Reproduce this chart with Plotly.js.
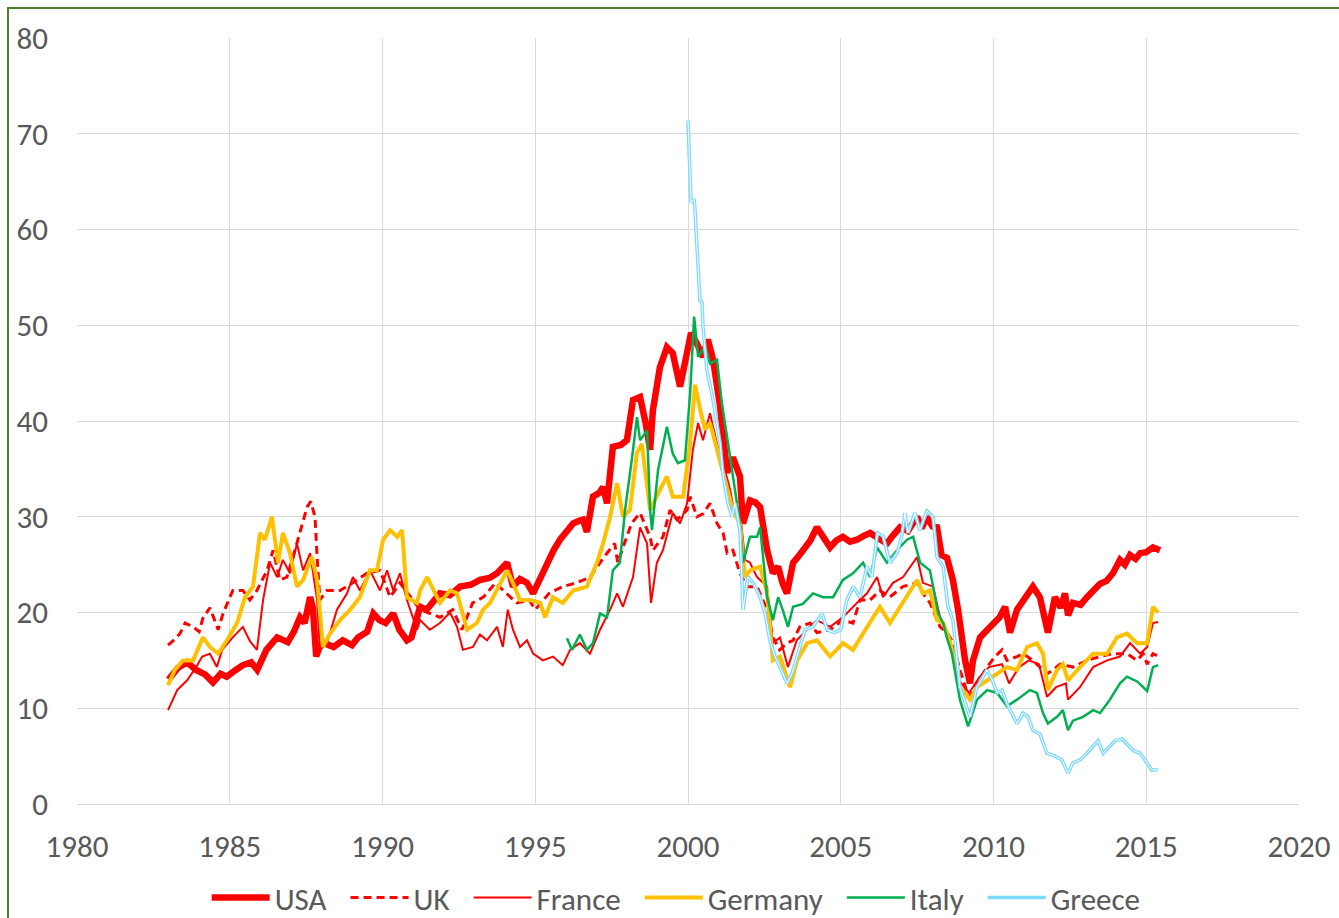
<!DOCTYPE html>
<html>
<head>
<meta charset="utf-8">
<script src="https://cdn.plot.ly/plotly-3.0.1.min.js"></script>
<style>
  html, body { margin: 0; padding: 0; overflow: hidden; background: #ffffff; }
  #chart { width: 1339px; height: 918px; position: absolute; left: 0; top: 0; }
  #frame { position: absolute; left: 7px; top: 7px; width: 1400px; height: 1000px;
           border-left: 2px solid #4F7F30; border-top: 2px solid #4F7F30; pointer-events: none; }
</style>
</head>
<body>
<div id="chart"></div>
<div id="frame"></div>
<script>
// ---- Data ----
const seriesNames = ["USA", "UK", "France", "Germany", "Italy", "Greece"];

const usaYears = [1983.0,1983.3,1983.6,1983.9,1984.2,1984.45,1984.7,1984.9,1985.2,1985.43,1985.7,1985.9,1986.2,1986.55,1986.9,1987.1,1987.3,1987.45,1987.63,1987.72,1987.83,1987.95,1988.1,1988.4,1988.7,1989.0,1989.2,1989.5,1989.7,1989.9,1990.1,1990.35,1990.55,1990.8,1990.95,1991.1,1991.23,1991.45,1991.7,1991.88,1992.2,1992.54,1992.9,1993.19,1993.5,1993.75,1994.08,1994.27,1994.5,1994.73,1994.93,1995.15,1995.38,1995.6,1995.81,1996.0,1996.24,1996.45,1996.56,1996.69,1996.89,1997.1,1997.22,1997.35,1997.54,1997.8,1998.0,1998.2,1998.43,1998.6,1998.76,1998.85,1999.08,1999.31,1999.5,1999.74,1999.97,2000.1,2000.29,2000.49,2000.65,2000.82,2001.05,2001.2,2001.28,2001.47,2001.7,2001.8,2002.03,2002.2,2002.36,2002.59,2002.78,2002.95,2003.1,2003.24,2003.44,2003.6,2003.76,2004.0,2004.22,2004.45,2004.65,2004.85,2005.07,2005.3,2005.53,2005.75,2005.96,2006.2,2006.51,2006.7,2006.94,2007.2,2007.5,2007.65,2007.82,2008.0,2008.15,2008.3,2008.48,2008.67,2008.84,2009.07,2009.23,2009.33,2009.56,2009.8,2009.98,2010.2,2010.38,2010.54,2010.77,2011.0,2011.29,2011.52,2011.78,2012.01,2012.2,2012.34,2012.44,2012.6,2012.85,2013.06,2013.3,2013.49,2013.7,2013.91,2014.14,2014.3,2014.47,2014.65,2014.8,2015.0,2015.22,2015.45];
const usaValues = [13.0,14.2,14.8,14.0,13.5,12.7,13.6,13.3,14.0,14.5,14.8,14.0,16.1,17.4,16.9,18.0,19.5,18.9,21.6,20.5,15.4,16.5,16.8,16.4,17.1,16.6,17.4,18.0,19.9,19.2,18.9,19.9,18.2,17.1,17.4,19.5,20.6,20.3,21.3,22.0,21.8,22.7,22.9,23.4,23.6,24.1,25.2,22.7,23.5,23.1,22.0,23.5,25.2,26.5,27.6,28.3,29.3,29.6,29.7,28.4,32.1,32.5,33.1,31.4,37.3,37.5,38.0,42.2,42.5,40.0,37.0,41.1,45.6,47.7,47.1,43.6,47.1,49.2,48.1,46.7,48.5,46.4,41.5,37.0,34.6,36.2,34.2,29.3,31.7,31.5,31.0,26.5,24.1,24.8,23.0,22.0,25.2,25.8,26.5,27.5,28.9,27.8,26.8,27.5,27.9,27.4,27.6,28.0,28.3,27.8,27.2,28.0,28.9,28.5,30.0,28.8,30.0,29.0,28.9,26.0,25.7,23.4,20.3,15.0,12.6,15.0,17.4,18.2,18.9,19.5,20.6,17.9,20.3,21.5,22.7,21.6,17.9,21.6,20.5,22.0,19.7,21.0,20.8,21.6,22.5,23.0,23.3,24.1,25.5,25.0,26.0,25.6,26.2,26.3,26.8,26.5];

const ukYears = [1982.98,1983.2,1983.37,1983.54,1983.8,1984.0,1984.12,1984.35,1984.62,1984.78,1985.1,1985.43,1985.66,1985.89,1986.22,1986.42,1986.64,1986.87,1987.07,1987.3,1987.53,1987.65,1987.79,1987.86,1987.95,1988.18,1988.61,1989.03,1989.49,1989.92,1990.25,1990.57,1991.0,1991.23,1991.88,1992.3,1992.6,1992.95,1993.3,1993.7,1994.05,1994.4,1994.8,1995.0,1995.45,1995.9,1996.35,1996.8,1997.25,1997.6,1997.7,1998.15,1998.43,1998.76,1998.85,1999.18,1999.41,1999.64,1999.97,2000.07,2000.29,2000.49,2000.72,2000.95,2001.15,2001.28,2001.47,2001.7,2001.93,2002.26,2002.59,2002.78,2003.0,2003.24,2003.44,2003.66,2004.0,2004.22,2004.65,2005.07,2005.4,2005.63,2005.96,2006.28,2006.6,2007.03,2007.5,2007.69,2007.92,2008.25,2008.48,2008.67,2008.9,2009.1,2009.23,2009.46,2009.79,2010.05,2010.28,2010.44,2010.77,2010.97,2011.29,2011.75,2011.95,2012.18,2012.6,2013.06,2013.49,2013.91,2014.37,2014.7,2014.9,2015.03,2015.22,2015.35];
const ukValues = [16.6,17.2,17.8,18.9,18.5,18.0,19.4,20.5,18.2,19.9,22.3,22.3,21.3,22.3,24.4,26.5,23.4,23.7,25.8,28.3,31.0,31.6,30.0,25.8,21.3,22.3,22.3,23.1,24.1,24.4,21.6,23.1,21.3,20.3,19.5,20.3,18.2,21.0,21.6,23.1,22.0,21.0,21.3,20.3,22.0,22.7,23.1,23.7,25.8,27.2,25.2,29.3,30.4,27.9,26.5,27.9,30.7,29.7,30.7,32.1,30.0,30.3,31.4,29.3,28.3,26.2,26.5,24.1,22.7,22.7,20.3,17.4,16.1,16.8,17.1,18.5,18.9,17.9,18.2,19.2,18.9,21.3,21.3,22.3,21.6,22.7,23.1,22.0,21.0,18.5,17.9,16.9,14.0,12.0,11.2,12.6,14.3,15.4,16.1,15.0,15.4,15.7,15.0,13.6,14.0,14.6,14.3,15.0,15.4,15.7,15.7,15.0,15.7,14.6,15.7,15.5];

const franceYears = [1982.98,1983.28,1983.6,1983.9,1984.1,1984.35,1984.58,1984.75,1985.1,1985.43,1985.66,1985.89,1986.09,1986.32,1986.55,1986.74,1986.97,1987.2,1987.4,1987.63,1987.86,1987.95,1988.18,1988.51,1988.84,1989.03,1989.26,1989.59,1989.92,1990.15,1990.35,1990.57,1990.8,1991.13,1991.23,1991.55,1991.88,1992.21,1992.44,1992.63,1992.96,1993.19,1993.42,1993.75,1993.94,1994.1,1994.27,1994.5,1994.73,1994.93,1995.25,1995.58,1995.9,1996.14,1996.46,1996.79,1997.12,1997.45,1997.68,1997.87,1998.2,1998.43,1998.66,1998.79,1998.98,1999.18,1999.5,1999.74,1999.97,2000.16,2000.33,2000.49,2000.72,2000.95,2001.15,2001.38,2001.54,2001.7,2001.87,2002.03,2002.26,2002.59,2002.78,2003.01,2003.27,2003.56,2003.89,2004.22,2004.65,2005.07,2005.53,2005.86,2006.19,2006.38,2006.71,2007.04,2007.5,2007.69,2008.02,2008.25,2008.55,2008.87,2009.2,2009.53,2009.85,2010.28,2010.51,2010.84,2011.16,2011.49,2011.75,2012.05,2012.37,2012.44,2012.83,2013.26,2013.72,2014.14,2014.47,2014.8,2015.03,2015.22,2015.39];
const franceValues = [9.8,11.9,12.9,14.3,15.4,15.7,14.3,16.1,17.4,18.5,17.0,16.1,21.3,25.2,23.7,25.5,24.1,27.2,24.4,26.2,21.3,16.1,16.8,20.3,22.0,23.7,22.3,24.4,22.3,24.4,22.3,24.1,21.3,18.2,19.2,18.2,18.9,20.0,18.5,16.1,16.4,17.7,17.1,18.5,16.4,20.3,18.2,16.4,17.1,15.7,15.0,15.4,14.5,16.1,16.8,15.7,18.2,20.3,22.0,20.6,23.7,28.9,27.2,21.0,25.2,26.5,30.4,29.3,31.4,37.0,39.8,38.0,40.8,37.6,35.6,32.8,30.0,30.6,25.5,25.2,23.7,22.7,16.8,17.4,14.3,17.1,18.2,19.2,18.5,19.5,21.0,22.0,23.7,21.6,23.1,23.7,25.8,23.1,22.7,19.5,17.4,12.9,11.6,13.2,14.3,14.6,12.6,14.3,15.0,14.6,11.2,12.2,12.6,10.9,12.2,14.3,15.0,15.4,16.8,15.7,16.4,18.9,19.0];

const germanyYears = [1982.98,1983.2,1983.47,1983.8,1984.12,1984.35,1984.62,1984.91,1985.24,1985.5,1985.76,1985.99,1986.15,1986.38,1986.58,1986.74,1986.97,1987.2,1987.4,1987.69,1987.86,1988.05,1988.28,1988.61,1988.94,1989.26,1989.59,1989.82,1990.02,1990.25,1990.48,1990.64,1990.8,1991.13,1991.23,1991.46,1991.88,1992.21,1992.44,1992.77,1993.09,1993.29,1993.52,1993.85,1994.08,1994.27,1994.5,1994.83,1995.16,1995.32,1995.58,1995.9,1996.24,1996.69,1997.02,1997.22,1997.45,1997.68,1997.87,1998.1,1998.33,1998.49,1998.76,1999.08,1999.31,1999.5,1999.84,2000.07,2000.23,2000.39,2000.56,2000.72,2000.95,2001.15,2001.47,2001.7,2001.87,2002.03,2002.36,2002.59,2002.78,2003.01,2003.24,2003.34,2003.57,2003.9,2004.22,2004.65,2005.07,2005.4,2005.73,2006.28,2006.61,2007.04,2007.5,2007.69,2007.92,2008.15,2008.35,2008.58,2008.9,2009.23,2009.46,2009.79,2010.12,2010.44,2010.77,2011.1,2011.42,2011.62,2011.78,2012.08,2012.27,2012.44,2012.83,2013.26,2013.72,2014.04,2014.37,2014.7,2015.03,2015.22,2015.39];
const germanyValues = [12.4,14.0,15.0,15.0,17.4,16.4,15.7,17.1,18.9,21.6,22.7,28.3,27.6,30.0,25.2,28.3,26.2,22.7,23.4,25.8,23.4,16.4,17.8,19.2,20.3,21.6,24.4,24.4,27.6,28.6,27.9,28.6,21.6,21.0,22.3,23.7,21.0,22.3,22.0,18.2,18.9,20.3,21.0,23.1,24.4,23.1,21.3,21.3,21.0,19.5,21.6,21.0,22.3,22.7,25.2,27.2,30.0,33.5,30.0,30.7,36.7,37.6,30.7,32.8,34.2,32.1,32.1,37.7,43.8,41.3,39.1,39.8,37.0,34.2,30.7,29.3,23.7,24.4,24.8,22.0,15.0,15.4,13.3,12.2,15.0,16.8,17.1,15.4,16.8,16.1,17.8,20.6,18.9,21.0,23.4,22.0,22.3,19.2,18.9,17.0,12.2,10.9,12.2,12.9,13.6,14.3,14.0,16.4,16.8,15.7,11.9,14.0,14.6,12.9,14.3,15.7,15.7,17.4,17.8,16.8,16.8,20.6,20.0];

const italyYears = [1996.04,1996.2,1996.46,1996.69,1996.89,1997.12,1997.35,1997.54,1997.77,1997.94,1998.17,1998.33,1998.43,1998.66,1998.76,1998.82,1999.02,1999.31,1999.5,1999.67,1999.9,2000.07,2000.2,2000.33,2000.56,2000.72,2000.95,2001.11,2001.31,2001.54,2001.7,2001.8,2002.03,2002.26,2002.36,2002.59,2002.78,2002.95,2003.11,2003.27,2003.44,2003.76,2004.09,2004.42,2004.75,2005.07,2005.4,2005.73,2005.96,2006.19,2006.51,2006.84,2007.17,2007.37,2007.6,2007.92,2008.19,2008.35,2008.48,2008.64,2008.9,2009.17,2009.46,2009.79,2010.12,2010.44,2010.77,2011.19,2011.42,2011.62,2011.78,2012.08,2012.27,2012.44,2012.6,2012.93,2013.26,2013.49,2013.81,2014.14,2014.37,2014.7,2015.03,2015.22,2015.39];
const italyValues = [17.3,16.1,17.7,16.1,16.8,19.9,19.5,24.4,25.2,30.7,36.2,40.4,38.0,39.0,30.7,28.6,34.9,39.4,36.6,35.6,35.9,42.9,50.9,46.7,47.8,46.0,46.4,41.8,37.7,32.5,29.3,25.2,27.9,27.9,28.9,21.6,19.2,21.6,20.2,18.5,20.6,20.9,22.0,21.6,21.6,23.4,24.1,25.2,23.7,26.8,25.2,26.5,27.6,27.9,25.2,24.4,19.9,18.9,17.3,15.7,10.9,8.1,10.9,11.9,11.6,10.2,10.9,11.9,11.6,9.5,8.4,9.1,9.8,7.7,8.7,9.1,9.8,9.5,10.9,12.6,13.3,12.8,11.8,14.3,14.5];

const greeceYears = [2000.0,2000.1,2000.2,2000.23,2000.39,2000.46,2000.49,2000.62,2000.82,2001.05,2001.15,2001.31,2001.44,2001.54,2001.7,2001.8,2001.96,2002.13,2002.36,2002.52,2002.68,2002.85,2003.01,2003.24,2003.4,2003.57,2003.83,2004.09,2004.39,2004.55,2004.8,2005.0,2005.2,2005.41,2005.63,2005.86,2006.02,2006.2,2006.38,2006.61,2006.84,2007.0,2007.1,2007.2,2007.43,2007.59,2007.82,2008.02,2008.15,2008.35,2008.51,2008.67,2008.9,2009.23,2009.46,2009.79,2009.95,2010.12,2010.28,2010.44,2010.6,2010.77,2010.97,2011.13,2011.29,2011.52,2011.75,2012.01,2012.24,2012.44,2012.6,2012.83,2013.06,2013.26,2013.42,2013.59,2013.81,2013.98,2014.21,2014.37,2014.57,2014.8,2015.03,2015.19,2015.29,2015.39];
const greeceValues = [71.4,62.8,63.2,62.0,52.6,52.4,49.8,45.3,42.2,37.7,34.2,31.4,30.0,31.4,28.6,20.3,23.7,23.1,21.6,19.9,17.1,15.4,14.3,12.6,13.6,15.4,18.2,18.5,19.9,18.2,17.9,18.2,21.3,22.7,21.6,24.8,23.7,28.3,28.0,25.2,26.2,28.0,30.4,28.3,30.4,28.6,30.6,30.0,25.8,24.8,20.6,19.2,12.2,9.1,12.2,14.0,13.0,11.6,11.9,10.5,9.5,8.4,9.5,9.1,7.7,7.3,5.3,5.0,4.6,3.2,4.3,4.6,5.3,6.0,6.6,5.3,6.0,6.6,6.8,6.3,5.6,5.3,4.3,3.5,3.6,3.5];

const xTickValues = [1980, 1985, 1990, 1995, 2000, 2005, 2010, 2015, 2020];
const yTickValues = [0, 10, 20, 30, 40, 50, 60, 70, 80];

// ---- Traces ----
const FONT = 'Calibri, Carlito, Lato, "Noto Sans", sans-serif';
const FS = 31;
const PAD = '\u00A0\u00A0';  // spacing after legend labels
const traces = [
  {x: usaYears, y: usaValues, name: seriesNames[0] + PAD, mode: 'lines',
   line: {color: '#FF0000', width: 6.5}},
  {x: ukYears, y: ukValues, name: seriesNames[1] + PAD, mode: 'lines',
   line: {color: '#FF0000', width: 3, dash: '8px,5px'}},
  {x: franceYears, y: franceValues, name: seriesNames[2] + PAD, mode: 'lines',
   line: {color: '#FF0000', width: 2}},
  {x: germanyYears, y: germanyValues, name: seriesNames[3] + PAD, mode: 'lines',
   line: {color: '#FFC000', width: 4}},
  {x: italyYears, y: italyValues, name: seriesNames[4] + PAD, mode: 'lines',
   line: {color: '#00B050', width: 2.5}},
  {x: greeceYears, y: greeceValues, name: seriesNames[5], mode: 'lines', legendgroup: 'gr',
   line: {color: '#7FD9FF', width: 3.6}},
  {x: greeceYears, y: greeceValues, name: seriesNames[5], mode: 'lines', legendgroup: 'gr',
   showlegend: false, hoverinfo: 'skip',
   line: {color: '#FFFFFF', width: 1}}
];

const layout = {
  width: 1339, height: 918,
  margin: {l: 77, r: 40, t: 38, b: 114, autoexpand: false},
  paper_bgcolor: '#FFFFFF', plot_bgcolor: '#FFFFFF',
  font: {family: FONT, size: FS, color: '#595959'},
  showlegend: true,
  legend: {orientation: 'h', xref: 'container', yref: 'container',
           x: 0.505, xanchor: 'center', y: 0.022, yanchor: 'middle',
           font: {family: FONT, size: FS, color: '#595959'}, itemwidth: 58,
           tracegroupgap: 0, traceorder: 'normal', bgcolor: 'rgba(0,0,0,0)'},
  xaxis: {range: [1980, 2020], tickmode: 'array', tickvals: xTickValues,
          ticktext: xTickValues.map(String),
          showgrid: true, gridcolor: '#D9D9D9', gridwidth: 1,
          showline: true, linecolor: '#D9D9D9', linewidth: 1, mirror: false,
          zeroline: false, ticks: '', ticklabelstandoff: 15,
          tickfont: {family: FONT, size: FS, color: '#595959'}, fixedrange: true},
  yaxis: {range: [0, 80], tickmode: 'array', tickvals: yTickValues,
          ticktext: yTickValues.map(String),
          showgrid: true, gridcolor: '#D9D9D9', gridwidth: 1,
          showline: false, zeroline: false, ticks: '', ticklabelstandoff: 28,
          tickfont: {family: FONT, size: FS, color: '#595959'}, fixedrange: true}
};

Plotly.newPlot('chart', traces, layout, {displayModeBar: false, staticPlot: true});
</script>
</body>
</html>
